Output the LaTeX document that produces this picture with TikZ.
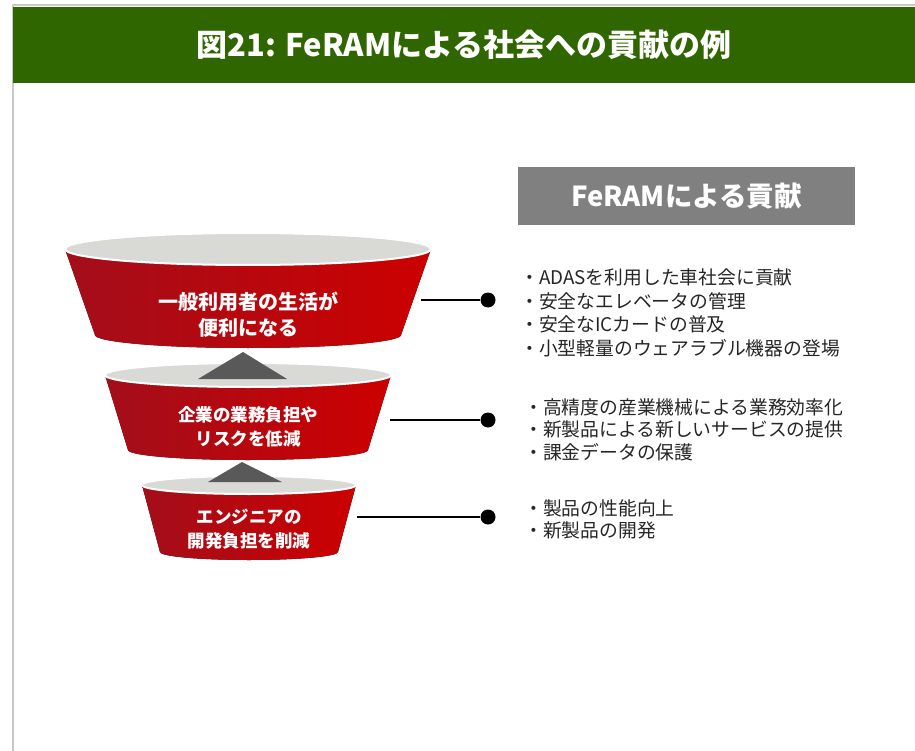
\documentclass[tikz,border=0pt]{standalone}
\usepackage{fontspec}
\setmainfont{Noto Sans CJK JP}
\definecolor{hdrgreen}{HTML}{306600}
\definecolor{bordergray}{HTML}{C8C8C8}
\definecolor{fredA}{HTML}{A30E1B}
\definecolor{fredB}{HTML}{CC0000}
\definecolor{rimgray}{HTML}{D9D9D6}
\definecolor{trigray}{HTML}{595959}
\definecolor{boxgray}{HTML}{808080}
\definecolor{txt}{HTML}{262626}
\begin{document}
\begin{tikzpicture}[x=1pt,y=-1pt,
  redbody/.style={left color=fredA,right color=fredB,draw=none},
  rim/.style={fill=rimgray,draw=white,line width=2pt},
  uptri/.style={fill=trigray,draw=none},
  ftextA/.style={text=white,font=\bfseries\fontsize{20}{26}\selectfont,align=center,inner sep=0pt},
  ftextB/.style={text=white,font=\bfseries\fontsize{17.5}{24}\selectfont,align=center,inner sep=0pt},
  listtext/.style={text=txt,font=\fontsize{18.8}{23.5}\selectfont,align=left,inner sep=0pt,anchor=west},
  conn/.style={draw=black,line width=2.5pt},
  dotnode/.style={circle,fill=black,inner sep=0pt,minimum size=15pt},
  hbox/.style={fill=boxgray,text=white,font=\bfseries\fontsize{27.5}{32}\selectfont,minimum width=337pt,minimum height=58pt,inner sep=0pt},
  titlenode/.style={text=white,font=\bfseries\fontsize{31}{36}\selectfont,inner sep=0pt}
]
\useasboundingbox (0,0) rectangle (915,751);
\fill[white] (0,0) rectangle (915,751);
% frame and header
\fill[bordergray] (12,4) rectangle (915,6);
\fill[bordergray] (12,4) rectangle (14,751);
\fill[hdrgreen] (13,7) rectangle (915,83);
\node[titlenode] (title) at (464,45) {図21: FeRAMによる社会への貢献の例};

% funnel 1
\fill[redbody] (65,249) -- (95,335) arc[start angle=180,end angle=360,x radius=153pt,y radius=13pt] -- (431,249) arc[start angle=0,end angle=-180,x radius=183pt,y radius=16pt] -- cycle;
\draw[rim] (248,249) ellipse[x radius=183pt,y radius=16pt];
% funnel 2
\fill[redbody] (105,375) -- (128,450) arc[start angle=180,end angle=360,x radius=120pt,y radius=10pt] -- (391,375) arc[start angle=0,end angle=-180,x radius=143pt,y radius=12pt] -- cycle;
\draw[rim] (248,375) ellipse[x radius=143pt,y radius=12pt];
% funnel 3
\fill[redbody] (142,485) -- (160,552) arc[start angle=180,end angle=360,x radius=89pt,y radius=8pt] -- (356,485) arc[start angle=0,end angle=-180,x radius=107pt,y radius=9pt] -- cycle;
\draw[rim] (249,485) ellipse[x radius=107pt,y radius=9pt];

% up triangles
\fill[uptri] (198,379) -- (243,352) -- (287,379) -- cycle;
\fill[uptri] (208,482) -- (242,462) -- (282,482) -- cycle;

% funnel texts
\node[ftextA] (f1) at (248,315) {一般利用者の生活が\\便利になる};
\node[ftextB] (f2) at (248,426.5) {企業の業務負担や\\リスクを低減};
\node[ftextB] (f3) at (249,529.5) {エンジニアの\\開発負担を削減};

% connectors
\coordinate (s1) at (421,300);
\coordinate (s2) at (390,420);
\coordinate (s3) at (357,517);
\node[dotnode] (d1) at (488,300) {};
\node[dotnode] (d2) at (488,420) {};
\node[dotnode] (d3) at (488,517) {};
\draw[conn] (s1) -- (d1);
\draw[conn] (s2) -- (d2);
\draw[conn] (s3) -- (d3);

% right side
\node[hbox] (hb) at (686.5,196) {FeRAMによる貢献};
\node[listtext] (l1) at (520,313) {・ADASを利用した車社会に貢献\\・安全なエレベータの管理\\・安全なICカードの普及\\・小型軽量のウェアラブル機器の登場};
\node[listtext,font=\fontsize{18.8}{22.5}\selectfont] (l2) at (524,429.5) {・高精度の産業機械による業務効率化\\・新製品による新しいサービスの提供\\・課金データの保護};
\node[listtext,font=\fontsize{18.8}{22}\selectfont] (l3) at (524,519) {・製品の性能向上\\・新製品の開発};
\end{tikzpicture}
\end{document}
